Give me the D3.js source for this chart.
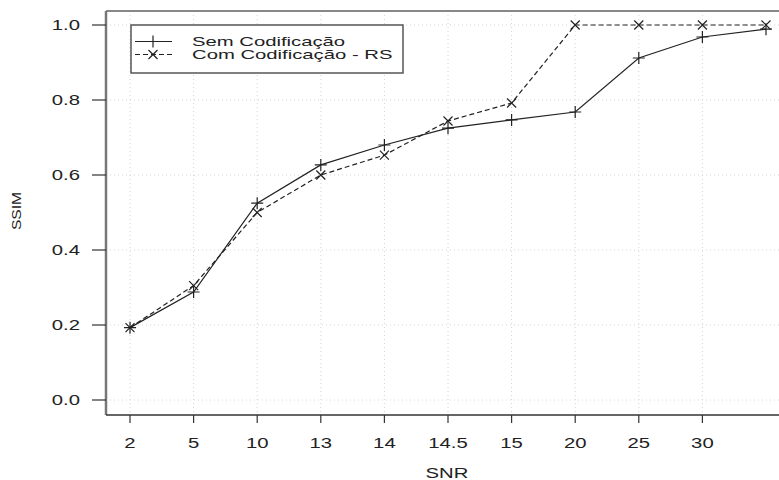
<!DOCTYPE html>
<html>
<head>
	<meta charset="utf-8">
	<title></title>
	<style>
		body { margin: 0; background: #fff; }
		text { font-family: "Liberation Sans", Arial, sans-serif; fill: #222; }
	</style>
</head>
<body>
	<svg id="container" width="779" height="480"></svg>
</body>
<script src="https://d3js.org/d3.v7.min.js"></script>
<script>
	// SNR categories (last one has no tick label in the original)
	let snr = ["2", "5", "10", "13", "14", "14.5", "15", "20", "25", "30", "35"]
	let tickLabels = ["2", "5", "10", "13", "14", "14.5", "15", "20", "25", "30"]
	let yTicks = [0, 0.2, 0.4, 0.6, 0.8, 1.0]

	let semCod = [0.193, 0.288, 0.525, 0.627, 0.68, 0.725, 0.747, 0.768, 0.912, 0.968, 0.989]
	let comCod = [0.193, 0.305, 0.50, 0.60, 0.653, 0.744, 0.792, 1.0, 1.0, 1.0, 1.0]

	let svg = d3.select("#container")
	let sx = 1.45 // text in the original is stretched horizontally

	let x = d3.scalePoint()
		.domain(snr)
		.range([130, 766])
	let y = d3.scaleLinear()
		.domain([0, 1])
		.range([400, 25])

	let boxL = 106, boxT = 11, boxB = 415, boxR = 800

	// grid
	let grid = svg.append("g")
		.attr("stroke", "#d4d4d4")
		.attr("stroke-dasharray", "1,3")
	grid.selectAll(".gx")
		.data(tickLabels)
		.enter()
		.append("line")
			.attr("x1", d => x(d)).attr("x2", d => x(d))
			.attr("y1", boxT).attr("y2", boxB)
	grid.selectAll(".gy")
		.data(yTicks)
		.enter()
		.append("line")
			.attr("x1", boxL).attr("x2", boxR)
			.attr("y1", d => y(d)).attr("y2", d => y(d))

	// box
	svg.append("line").attr("x1", boxL).attr("x2", boxR).attr("y1", boxT).attr("y2", boxT)
		.attr("stroke", "#888").attr("stroke-width", 2)
	svg.append("line").attr("x1", boxL).attr("x2", boxL).attr("y1", boxT).attr("y2", boxB)
		.attr("stroke", "#777").attr("stroke-width", 2.5)
	svg.append("line").attr("x1", boxL).attr("x2", boxR).attr("y1", boxB).attr("y2", boxB)
		.attr("stroke", "#333").attr("stroke-width", 1.5)

	// y axis ticks and labels
	let ya = svg.append("g")
	ya.selectAll("line")
		.data(yTicks)
		.enter()
		.append("line")
			.attr("x1", 92).attr("x2", boxL)
			.attr("y1", d => y(d)).attr("y2", d => y(d))
			.attr("stroke", "#333").attr("stroke-width", 1.2)
	ya.selectAll("text")
		.data(yTicks)
		.enter()
		.append("text")
			.attr("transform", d => `translate(80,${y(d) + 5}) scale(${sx},1)`)
			.attr("text-anchor", "end")
			.attr("font-size", 14)
			.text(d => d.toFixed(1))

	// x axis ticks and labels
	let xa = svg.append("g")
	xa.selectAll("line")
		.data(tickLabels)
		.enter()
		.append("line")
			.attr("x1", d => x(d)).attr("x2", d => x(d))
			.attr("y1", boxB).attr("y2", 423)
			.attr("stroke", "#333").attr("stroke-width", 1.2)
	xa.selectAll("text")
		.data(tickLabels)
		.enter()
		.append("text")
			.attr("transform", d => `translate(${x(d)},448) scale(${sx},1)`)
			.attr("text-anchor", "middle")
			.attr("font-size", 14)
			.text(d => d)

	// axis titles
	svg.append("text")
		.attr("transform", `translate(447,478) scale(${sx},1)`)
		.attr("text-anchor", "middle")
		.attr("font-size", 14)
		.text("SNR")
	svg.append("text")
		.attr("transform", "translate(21,211) rotate(-90) scale(1.2,1)")
		.attr("text-anchor", "middle")
		.attr("font-size", 13)
		.text("SSIM")

	// lines
	let line = d3.line()
		.x((d, i) => x(snr[i]))
		.y(d => y(d))

	svg.append("path")
		.attr("d", line(semCod))
		.attr("fill", "none")
		.attr("stroke", "#222")
		.attr("stroke-width", 1.2)
	svg.append("path")
		.attr("d", line(comCod))
		.attr("fill", "none")
		.attr("stroke", "#222")
		.attr("stroke-width", 1.2)
		.attr("stroke-dasharray", "5,3")

	function plus(g, cx, cy) {
		g.append("path")
			.attr("d", `M${cx - 6},${cy}H${cx + 6}M${cx},${cy - 6}V${cy + 6}`)
			.attr("stroke", "#222").attr("stroke-width", 1.2)
	}
	function cross(g, cx, cy) {
		let r = 4.5
		g.append("path")
			.attr("d", `M${cx - r},${cy - r}L${cx + r},${cy + r}M${cx - r},${cy + r}L${cx + r},${cy - r}`)
			.attr("stroke", "#222").attr("stroke-width", 1.2)
	}

	let marks = svg.append("g")
	semCod.forEach((d, i) => plus(marks, x(snr[i]), y(d)))
	comCod.forEach((d, i) => cross(marks, x(snr[i]), y(d)))

	// legend
	let lsx = 1.56
	let legend = svg.append("g")
	legend.append("rect")
		.attr("x", 131).attr("y", 25)
		.attr("width", 272).attr("height", 48)
		.attr("fill", "#fff")
		.attr("stroke", "#555").attr("stroke-width", 1.5)
	legend.append("line").attr("x1", 135).attr("x2", 172).attr("y1", 41.5).attr("y2", 41.5)
		.attr("stroke", "#222").attr("stroke-width", 1.2)
	plus(legend, 153, 41.5)
	legend.append("line").attr("x1", 135).attr("x2", 172).attr("y1", 54.5).attr("y2", 54.5)
		.attr("stroke", "#222").attr("stroke-width", 1.2).attr("stroke-dasharray", "5,3")
	cross(legend, 153, 54.5)
	legend.append("text")
		.attr("transform", `translate(192,46) scale(${lsx},1)`)
		.attr("font-size", 13)
		.text("Sem Codificação")
	legend.append("text")
		.attr("transform", `translate(192,59) scale(${lsx},1)`)
		.attr("font-size", 13)
		.text("Com Codificação - RS")
</script>
</html>
